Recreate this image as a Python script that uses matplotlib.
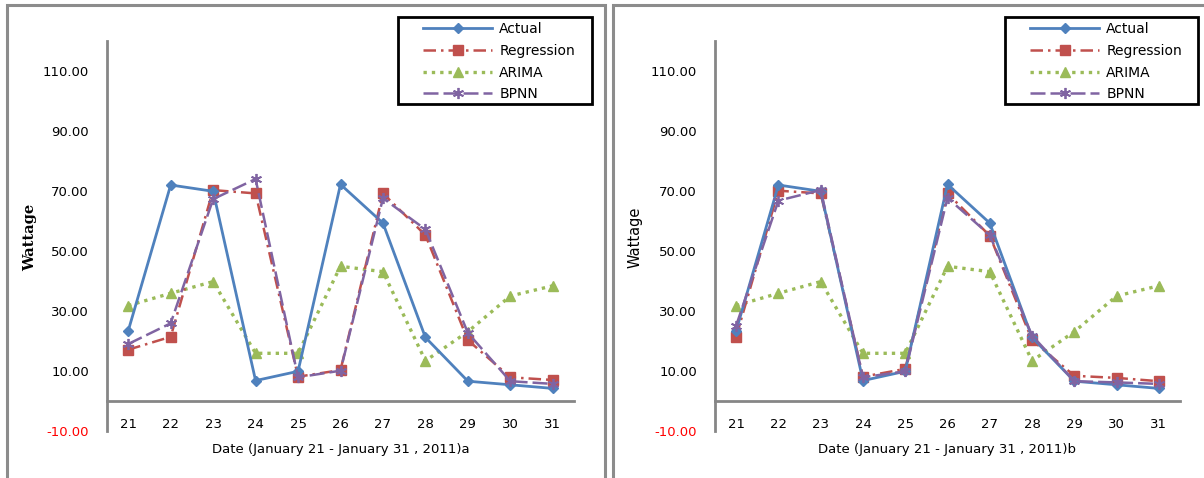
import matplotlib.pyplot as plt
from matplotlib.patches import Rectangle

# values
days = ['21', '22', '23', '24', '25', '26', '27', '28', '29', '30', '31']
actual = [23.4, 72.0, 69.9, 6.8, 9.9, 72.2, 59.3, 21.2, 6.6, 5.4, 4.2]
arima = [31.8, 35.9, 39.8, 15.9, 15.9, 44.9, 43.1, 13.4, 23.1, 35.0, 38.4]
regression_a = [17.1, 21.4, 70.3, 69.2, 8.1, 10.3, 69.2, 55.3, 20.3, 7.9, 7.0]
bpnn_a = [19.0, 25.9, 67.3, 74.0, 7.9, 10.1, 67.6, 57.2, 22.7, 6.6, 5.7]
regression_b = [21.4, 70.1, 69.2, 8.1, 10.7, 69.2, 55.1, 20.3, 8.4, 7.7, 6.6]
bpnn_b = [25.1, 66.8, 70.3, 7.9, 9.9, 67.7, 55.3, 21.8, 6.6, 6.2, 5.7]
yticks = [-10, 10, 30, 50, 70, 90, 110]
names = ['Actual', 'Regression', 'ARIMA', 'BPNN']

W, H = 1204, 478
fig = plt.figure(figsize=(W / 100, H / 100), dpi=100)
fig.patch.set_facecolor('white')

# panel frames
for x0, x1 in [(7, 605), (613, 1210)]:
    fig.patches.append(Rectangle((x0 / W, -0.05), (x1 - x0) / W, (H - 5) / H + 0.05,
                                 transform=fig.transFigure, fill=False,
                                 edgecolor='#8c8c8c', linewidth=2.2))

x = list(range(len(days)))


def panel(left, right, regression, bpnn, suffix, ylab_x, ylab_font, leg_x0, leg_x1):
    ax = fig.add_axes([left / W, (H - 431) / H, (right - left) / W, 390 / H])
    ax.plot(x, actual, color='#4f81bd', lw=2.0, marker='D', ms=5, label=names[0], zorder=4)
    ax.plot(x, regression, color='#c0504d', lw=1.8, dashes=(5, 2, 1, 2), marker='s', ms=7.5,
            label=names[1], zorder=3)
    ax.plot(x, arima, color='#9bbb59', lw=2.4, dashes=(1, 1.5), marker='^', ms=7,
            label=names[2], zorder=2)
    ax.plot(x, bpnn, color='#8064a2', lw=1.8, dashes=(6, 2), marker=(6, 2, 0), ms=8,
            mew=1.3, label=names[3], zorder=5)

    ax.set_xlim(-0.5, len(days) - 0.5)
    ax.set_ylim(-10, 120)
    ax.set_xticks(x)
    ax.set_xticklabels(days)
    ax.set_yticks(yticks)
    ax.set_yticklabels(['%.2f' % v for v in yticks])
    ax.get_yticklabels()[0].set_color('red')
    ax.tick_params(length=0, labelsize=9.5)
    ax.tick_params(axis='y', pad=13)
    ax.tick_params(axis='x', pad=12)
    for s in ['top', 'right']:
        ax.spines[s].set_visible(False)
    ax.spines['bottom'].set_position(('data', 0))
    for s in ['left', 'bottom']:
        ax.spines[s].set_color('#868686')
        ax.spines[s].set_linewidth(2)
    ax.set_facecolor('none')

    fig.text((left + right) / 2 / W, 1 - 449 / H, 'Date (January 21 - January 31 , 2011)' + suffix,
             ha='center', va='center', fontsize=9.5)
    fig.text(ylab_x / W, 1 - 237 / H, 'Wattage', rotation=90, ha='center', va='center',
             **ylab_font)

    # legend box drawn by hand, entries placed inside it
    fig.patches.append(Rectangle((leg_x0 / W, 1 - 104 / H), (leg_x1 - leg_x0) / W, 87 / H,
                                 transform=fig.transFigure, fill=True, facecolor='white',
                                 edgecolor='black', linewidth=2, zorder=10))
    handles, labels = ax.get_legend_handles_labels()
    leg = fig.legend(handles, labels, loc='upper left',
                     bbox_to_anchor=((leg_x0 + 25) / W, 1 - 22 / H),
                     bbox_transform=fig.transFigure, frameon=False, fontsize=10,
                     handlelength=5.0, handletextpad=0.5, numpoints=1,
                     labelspacing=0.56, borderpad=0, borderaxespad=0)
    leg.set_zorder(11)
    return ax


panel(107, 574, regression_a, bpnn_a, 'a', 30,
      dict(fontsize=10.5, family='DejaVu Serif', fontweight='bold'), 398, 592)
panel(715, 1180, regression_b, bpnn_b, 'b', 635, dict(fontsize=10.5), 1005, 1198)

fig.savefig('out.png', dpi=100)
